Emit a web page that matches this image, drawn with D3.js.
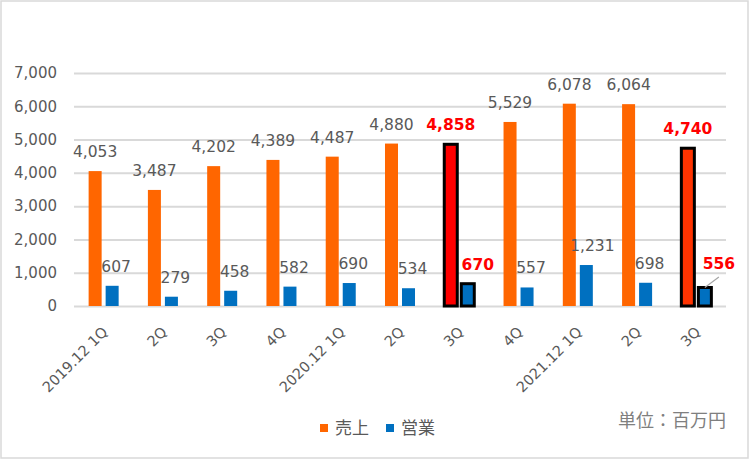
<!DOCTYPE html>
<html><head><meta charset="utf-8">
<script src="https://cdn.jsdelivr.net/npm/d3@7"></script>
<style>
html,body{margin:0;padding:0;background:#fff;}
svg{display:block;}
text{font-family:"DejaVu Sans","Noto Sans CJK JP",sans-serif;}
</style></head>
<body>
<svg id="chart" width="750" height="459"></svg>
<script>
const categories = ["2019.12 1Q","2Q","3Q","4Q","2020.12 1Q","2Q","3Q","4Q","2021.12 1Q","2Q","3Q"];
const sales = [4053,3487,4202,4389,4487,4880,4858,5529,6078,6064,4740];
const operating = [607,279,458,582,690,534,670,557,1231,698,556];
const yTicks = [0,1000,2000,3000,4000,5000,6000,7000];
const seriesNames = ["売上","営業"];
const highlighted = [6,10];
const unitLabel = "単位：百万円";

(function(){
const svg = d3.select("#chart");
const W = 750, H = 459;
const pLeft = 74, pRight = 726, pTop = 73, pBottom = 306;
const gray = "#595959";

svg.append("rect").attr("x",1).attr("y",1).attr("width",W-3).attr("height",H-2)
  .attr("fill","#fff").attr("stroke","#d9d9d9").attr("stroke-width",1.5);

const y = d3.scaleLinear().domain([0,7000]).range([pBottom,pTop]);
const x0 = d3.scaleBand().domain(d3.range(categories.length)).range([pLeft,pRight]).padding(0);
const x1 = d3.scaleBand().domain(["s","o"]).range([0,x0.bandwidth()]).paddingInner(0.235).paddingOuter(0.86);

// gridlines
const yAxis = d3.axisLeft(y).tickValues(yTicks).tickSize(-(pRight-pLeft)).tickFormat(d3.format(","));
const ga = svg.append("g").attr("transform",`translate(${pLeft},0)`).call(yAxis);
ga.select(".domain").remove();
ga.selectAll(".tick line").attr("stroke","#d9d9d9").attr("stroke-width",2);
ga.selectAll(".tick text").attr("x",-17).attr("fill",gray).attr("font-size",15)
  .attr("font-family","DejaVu Sans");

const colors = {s:"#FF6600", o:"#0070C0"};
const hiFill = {6:"#FF0000", 10:"#FF3300"};

const rows = categories.map((c,i)=>({i, s:sales[i], o:operating[i]}));

const g = svg.append("g");
rows.forEach(r=>{
  const hi = highlighted.includes(r.i);
  ["s","o"].forEach(k=>{
    const v = r[k];
    const bx = x0(r.i)+x1(k);
    g.append("rect")
      .attr("x",bx).attr("y",y(v))
      .attr("width",x1.bandwidth()).attr("height",y(0)-y(v))
      .attr("fill", (hi && k==="s") ? hiFill[r.i] : colors[k])
      .attr("stroke", hi ? "#000" : "none")
      .attr("stroke-width", hi ? 3 : 0);
  });
});

// labels
const fmt = d3.format(",");
rows.forEach(r=>{
  const hi = highlighted.includes(r.i);
  ["s","o"].forEach(k=>{
    const v = r[k];
    const cx = x0(r.i)+x1(k)+x1.bandwidth()/2;
    let dx = k==="o" ? 4 : 0;
    let dy = -14;
    if (k==="o" && r.i===8) dx = 6;
    if (k==="o" && r.i===6) dx = 10;
    if (k==="o" && r.i===10) { dx = 14; dy = -18.5; }
    g.append("text")
      .attr("x",cx+dx).attr("y",y(v)+dy)
      .attr("text-anchor","middle")
      .attr("font-size", hi ? 15.5 : 15.5)
      .attr("font-weight", hi ? "bold" : "normal")
      .attr("fill", hi ? "#FF0000" : gray)
      .text(fmt(v));
    if (k==="o" && r.i===10) {
      g.append("line")
        .attr("x1",cx).attr("y1",y(v))
        .attr("x2",cx+14).attr("y2",y(v)-10.5)
        .attr("stroke","#a6a6a6").attr("stroke-width",1.2);
    }
  });
});

// x labels
svg.append("g").selectAll("text").data(categories).join("text")
  .attr("transform",(d,i)=>`translate(${x0(i)+x0.bandwidth()/2+5},333) rotate(-45)`)
  .attr("text-anchor","end")
  .attr("font-size",14.5)
  .attr("fill",gray)
  .text(d=>d);

// legend
const leg = svg.append("g");
const legX = [320,386];
seriesNames.forEach((n,i)=>{
  leg.append("rect").attr("x",legX[i]).attr("y",424).attr("width",8).attr("height",8)
    .attr("fill", i===0 ? colors.s : colors.o);
  leg.append("text").attr("x",legX[i]+15).attr("y",434).attr("font-size",17)
    .attr("fill",gray).attr("font-family","Noto Sans CJK JP").text(n);
});

svg.append("text").attr("x",726).attr("y",427).attr("text-anchor","end")
  .attr("font-size",18).attr("fill","#7f7f7f").attr("font-family","Noto Sans CJK JP")
  .text(unitLabel);
})();
</script>
</body></html>
